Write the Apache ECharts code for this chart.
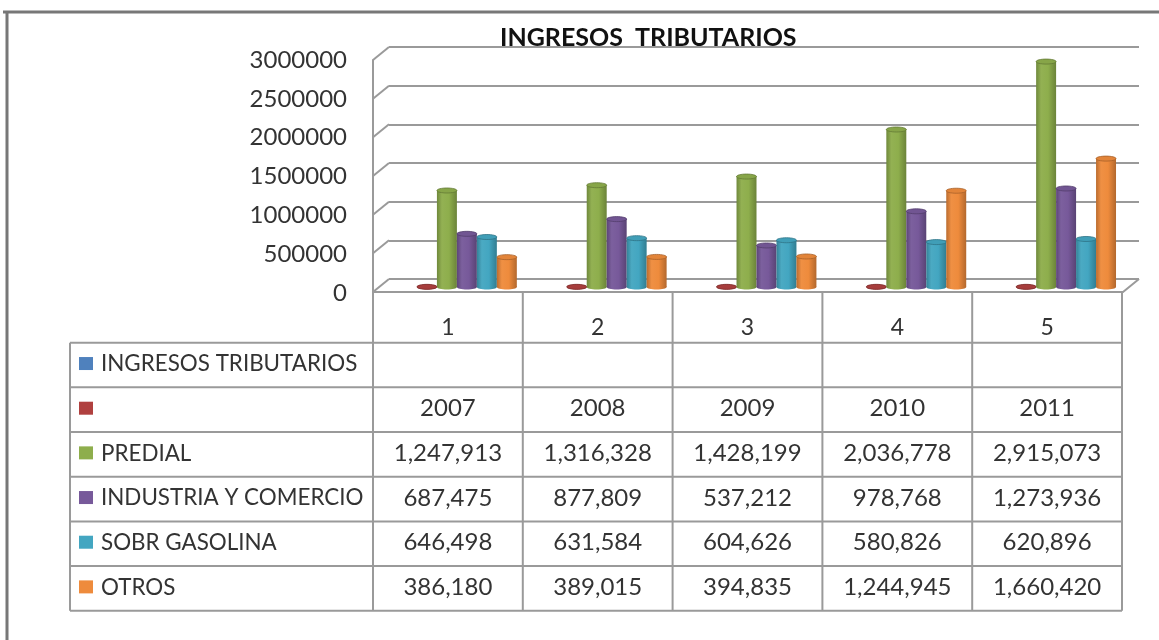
<!DOCTYPE html>
<html lang="es">

<head>
    <meta charset="UTF-8">
    <title>Ingresos Tributarios</title>
    <style>
        html,
        body {
            margin: 0;
            padding: 0;
            background: #fff;
        }

        #chart {
            width: 1159px;
            height: 640px;
        }
    </style>
</head>

<body>
    <div id="chart"></div>
</body>
<script src="https://cdn.jsdelivr.net/npm/echarts@6/dist/echarts.min.js"></script>
<script type="text/javascript">
    // datos
    const categories = ['1', '2', '3', '4', '5']
    const yTicks = [0, 500000, 1000000, 1500000, 2000000, 2500000, 3000000]
    const seriesNames = ['INGRESOS TRIBUTARIOS', '', 'PREDIAL', 'INDUSTRIA Y COMERCIO', 'SOBR GASOLINA', 'OTROS']
    const ingresos = [null, null, null, null, null]
    const anios = [2007, 2008, 2009, 2010, 2011]
    const predial = [1247913, 1316328, 1428199, 2036778, 2915073]
    const industria = [687475, 877809, 537212, 978768, 1273936]
    const gasolina = [646498, 631584, 604626, 580826, 620896]
    const otros = [386180, 389015, 394835, 1244945, 1660420]
    const seriesData = [ingresos, anios, predial, industria, gasolina, otros]
    const colors = ['#4F81BD', '#B0403F', '#8EAE4C', '#77599A', '#43A6C1', '#EE8B3C']

    const FONT = 'Lato'
    const TEXT = '#333'
    const LINE = '#9a9a9a'
    const DX = 16, DY = 13   // profundidad del efecto 3D

    /* aclarar / oscurecer un color */
    function shade(hex, amt) {
        let n = parseInt(hex.slice(1), 16)
        let rgb = [(n >> 16) & 255, (n >> 8) & 255, n & 255]
        rgb = rgb.map(c => amt < 0 ? Math.round(c * (1 + amt)) : Math.round(c + (255 - c) * amt))
        return 'rgb(' + rgb.join(',') + ')'
    }

    /* cilindro para cada barra */
    function renderCylinder(params, api) {
        let v = api.value(1)
        if (v == null || isNaN(v)) return
        let i = api.value(0)
        let base = api.coord([i, 0])
        let top = api.coord([i, v])
        let n = seriesNames.length
        let w = api.size([1, 0])[0] * 0.8 / n
        let x = base[0] - w * n / 2 + params.seriesIndex * w
        let c = colors[params.seriesIndex]
        let grad = new echarts.graphic.LinearGradient(0, 0, 1, 0, [
            { offset: 0, color: shade(c, -0.22) },
            { offset: 0.25, color: shade(c, 0.04) },
            { offset: 0.6, color: c },
            { offset: 1, color: shade(c, -0.25) }
        ])
        return {
            type: 'group',
            children: [
                { type: 'ellipse', shape: { cx: x + w / 2, cy: base[1], rx: w / 2, ry: 2.5 }, style: { fill: grad } },
                { type: 'rect', shape: { x: x, y: top[1], width: w, height: base[1] - top[1] }, style: { fill: grad } },
                {
                    type: 'ellipse', shape: { cx: x + w / 2, cy: top[1], rx: w / 2, ry: 2.5 },
                    style: { fill: shade(c, -0.05), stroke: shade(c, -0.3), lineWidth: 0.8 }
                }
            ]
        }
    }

    /* paredes laterales y piso */
    function renderFrame(params, api) {
        let v = api.value(1)
        let p0 = api.coord([0, v])
        let p1 = api.coord([1, v])
        let st = { stroke: LINE, lineWidth: 2, fill: null }
        let children = [
            { type: 'polyline', shape: { points: [[p0[0] - DX, p0[1] + DY], p0] }, style: st }
        ]
        if (v === 0) {
            children.push({
                type: 'polyline',
                shape: { points: [[p0[0] - DX, p0[1] + DY], [p1[0] - DX, p1[1] + DY], p1] },
                style: st
            })
        }
        return { type: 'group', children: children }
    }

    /* tabla de datos */
    function buildTable() {
        let els = []
        let left = 70, col0 = 373, colW = 149.8
        let headTop = 292, rowTop = 342.7, rowH = 44.67
        let nRows = seriesNames.length
        let bottom = rowTop + rowH * nRows
        let lineSt = { stroke: LINE, lineWidth: 2 }
        // verticales
        els.push({ type: 'line', shape: { x1: left, y1: rowTop, x2: left, y2: bottom }, style: lineSt })
        for (let k = 0; k <= categories.length; k++) {
            let x = col0 + colW * k
            els.push({ type: 'line', shape: { x1: x, y1: headTop, x2: x, y2: bottom }, style: lineSt })
        }
        // horizontales
        for (let r = 0; r <= nRows; r++) {
            let y = rowTop + rowH * r
            els.push({ type: 'line', shape: { x1: left, y1: y, x2: col0 + colW * categories.length, y2: y }, style: lineSt })
        }
        // categorias
        categories.forEach((c, k) => {
            els.push({
                type: 'text', x: col0 + colW * (k + 0.5), y: 328,
                style: { text: c, fill: TEXT, font: '23px ' + FONT, align: 'center', verticalAlign: 'middle' }
            })
        })
        // filas
        seriesNames.forEach((name, r) => {
            let cy = rowTop + rowH * (r + 0.5) - 1
            els.push({ type: 'rect', shape: { x: 79, y: cy - 7, width: 14, height: 13 }, style: { fill: colors[r] } })
            els.push({
                type: 'text', x: 101, y: cy,
                style: { text: name, fill: TEXT, font: '22.4px ' + FONT, verticalAlign: 'middle' }
            })
            seriesData[r].forEach((v, k) => {
                let t = v == null ? '' : (r === 1 ? String(v) : v.toLocaleString('en-US'))
                els.push({
                    type: 'text', x: col0 + colW * (k + 0.5), y: cy,
                    style: { text: t, fill: TEXT, font: '24px ' + FONT, align: 'center', verticalAlign: 'middle' }
                })
            })
        })
        // marco
        els.push({ type: 'line', shape: { x1: 3, y1: 12, x2: 1159, y2: 12 }, style: { stroke: '#777', lineWidth: 3 } })
        els.push({ type: 'line', shape: { x1: 7, y1: 12, x2: 7, y2: 640 }, style: { stroke: '#777', lineWidth: 3 } })
        return els
    }

    let chart = echarts.init(document.getElementById('chart'))
    let yMax = yTicks[yTicks.length - 1]
    let yStep = yTicks[1] - yTicks[0]

    let series = seriesData.map((arr, s) => ({
        name: seriesNames[s],
        type: 'custom',
        xAxisIndex: 0,
        yAxisIndex: 0,
        renderItem: renderCylinder,
        data: arr.map((v, i) => [i, v]),
        z: 5
    }))
    series.push({
        type: 'custom',
        xAxisIndex: 2,
        yAxisIndex: 2,
        renderItem: renderFrame,
        data: yTicks.map(v => [0, v]),
        z: 1,
        silent: true
    })

    let option = {
        animation: false,
        title: {
            text: 'INGRESOS  TRIBUTARIOS',
            left: 495,
            top: 20,
            textStyle: { fontFamily: FONT, fontWeight: 'bold', fontSize: 25, color: '#111' }
        },
        grid: [
            // barras
            { left: 382, right: 28, top: 55, bottom: 353 },
            // eje frontal
            { left: 373, right: 37, top: 60, bottom: 347 },
            // pared del fondo
            { left: 389, right: 20, top: 47, bottom: 361 }
        ],
        xAxis: [
            { gridIndex: 0, type: 'category', data: categories, show: false },
            { gridIndex: 1, type: 'value', show: false },
            { gridIndex: 2, type: 'value', min: 0, max: 1, show: false }
        ],
        yAxis: [
            { gridIndex: 0, type: 'value', min: 0, max: yMax, show: false },
            {
                gridIndex: 1, type: 'value', min: 0, max: yMax, interval: yStep,
                axisLine: { show: true, lineStyle: { color: LINE, width: 2 } },
                axisTick: { show: false },
                splitLine: { show: false },
                axisLabel: {
                    color: TEXT, fontFamily: FONT, fontSize: 24, margin: 26,
                    formatter: v => String(v)
                }
            },
            {
                gridIndex: 2, type: 'value', min: 0, max: yMax, interval: yStep,
                axisLine: { show: false },
                axisTick: { show: false },
                axisLabel: { show: false },
                splitLine: { lineStyle: { color: LINE, width: 2 } }
            }
        ],
        graphic: buildTable(),
        series: series
    }

    chart.setOption(option)
</script>

</html>
